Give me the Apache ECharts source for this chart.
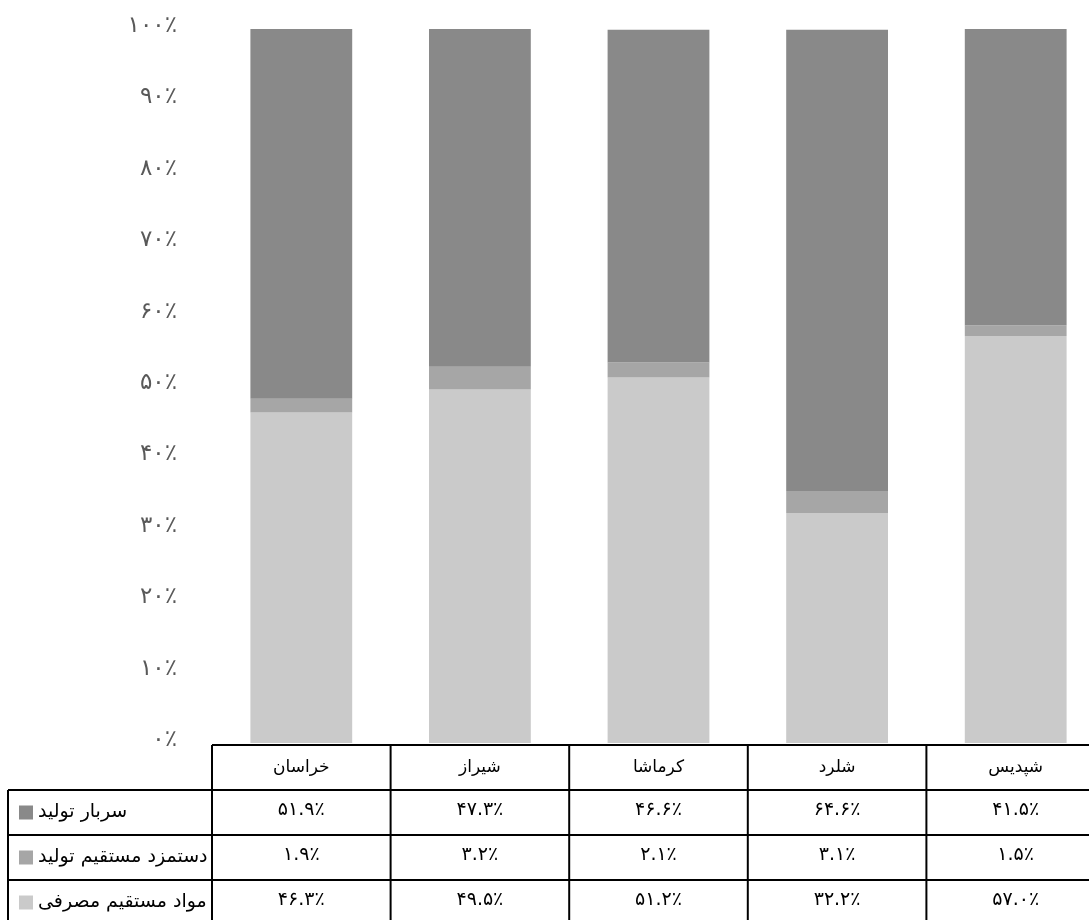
<!DOCTYPE html>
<html>
<head>
<meta charset="utf-8">
<script src="https://cdn.jsdelivr.net/npm/echarts@6/dist/echarts.min.js"></script>
<style>
html,body{margin:0;padding:0;background:#fff;}
#chart{width:1089px;height:920px;}
</style>
</head>
<body>
<div id="chart"></div>
<script>
const categories = ['خراسان', 'شیراز', 'کرماشا', 'شلرد', 'شپدیس'];
const seriesNames = ['سربار تولید', 'دستمزد مستقیم تولید', 'مواد مستقیم مصرفی'];
const overhead = [51.9, 47.3, 46.6, 64.6, 41.5];
const labor = [1.9, 3.2, 2.1, 3.1, 1.5];
const materials = [46.3, 49.5, 51.2, 32.2, 57.0];
const yTicks = [0, 10, 20, 30, 40, 50, 60, 70, 80, 90, 100];

const colors = {overhead: '#898989', labor: '#a6a6a6', materials: '#cacaca'};
const FONT = 'DejaVu Sans';

function fa(s) {
  return String(s).replace(/[0-9]/g, d => '۰۱۲۳۴۵۶۷۸۹'[+d]);
}
function pct(v, dec) { return fa(dec ? v.toFixed(1) : String(v)) + '٪'; }

const chart = echarts.init(document.getElementById('chart'));
const option = {
  animation: false,
  backgroundColor: '#fff',
  grid: {left: 212, width: 893, top: 29, bottom: 177, containLabel: false, outerBoundsMode: 'none'},
  xAxis: {
    type: 'category', data: categories,
    axisLine: {show: false}, axisTick: {show: false}, axisLabel: {show: false}
  },
  yAxis: {
    type: 'value', min: yTicks[0], max: yTicks[yTicks.length - 1], interval: 10,
    axisLine: {show: false}, axisTick: {show: false}, splitLine: {show: false},
    axisLabel: {formatter: v => pct(v, false), color: '#595959', fontSize: 23, fontFamily: FONT,
      margin: 35, verticalAlign: 'bottom', lineHeight: 26, padding: [0, 0, -10, 0]}
  },
  series: [
    {name: seriesNames[2], type: 'bar', stack: 's', data: materials, barCategoryGap: '43%',
     itemStyle: {color: colors.materials}},
    {name: seriesNames[1], type: 'bar', stack: 's', data: labor,
     itemStyle: {color: colors.labor}},
    {name: seriesNames[0], type: 'bar', stack: 's', data: overhead,
     itemStyle: {color: colors.overhead}}
  ]
};
chart.setOption(option);

// Data table under the chart
const centers = categories.map((c, i) => chart.convertToPixel({xAxisIndex: 0}, i));
const band = centers[1] - centers[0];
const y0 = chart.convertToPixel({yAxisIndex: 0}, 0) + 2;
const rowH = 45;
const tableLeft = 8;
const gLeft = centers[0] - band / 2;
const gRight = centers[centers.length - 1] + band / 2;
const nRows = 3;
const els = [];
const line = (x1, y1, x2, y2) => els.push({type: 'line', shape: {x1, y1, x2, y2},
  style: {stroke: '#000', lineWidth: 2}, silent: true, z: 10});

// horizontal lines
line(gLeft, y0, gRight, y0);
for (let r = 1; r <= nRows + 1; r++) line(tableLeft, y0 + r * rowH, gRight, y0 + r * rowH);
// vertical lines
for (let i = 0; i <= categories.length; i++) {
  const x = gLeft + i * band;
  line(x, y0, x, y0 + (nRows + 1) * rowH);
}
line(tableLeft, y0 + rowH, tableLeft, y0 + (nRows + 1) * rowH);

// header
categories.forEach((c, i) => els.push({type: 'text', x: centers[i], y: y0 + rowH / 2,
  style: {text: c, fill: '#000', font: '17px "' + FONT + '"', align: 'center', verticalAlign: 'middle'}, z: 11}));

const rows = [
  {name: seriesNames[0], data: overhead, color: colors.overhead},
  {name: seriesNames[1], data: labor, color: colors.labor},
  {name: seriesNames[2], data: materials, color: colors.materials}
];
rows.forEach((row, r) => {
  const cy = y0 + (r + 1) * rowH + rowH / 2;
  els.push({type: 'rect', shape: {x: tableLeft + 11, y: cy - 7, width: 14, height: 14},
    style: {fill: row.color}, z: 11});
  els.push({type: 'text', x: tableLeft + 30, y: cy,
    style: {text: row.name, fill: '#000', font: '19px "' + FONT + '"', align: 'left', verticalAlign: 'middle'}, z: 11});
  row.data.forEach((v, i) => els.push({type: 'text', x: centers[i], y: cy - 2,
    style: {text: pct(v, true), fill: '#000', font: '19px "' + FONT + '"', align: 'center', verticalAlign: 'middle'}, z: 11}));
});

chart.setOption({graphic: {elements: els}});
</script>
</body>
</html>
